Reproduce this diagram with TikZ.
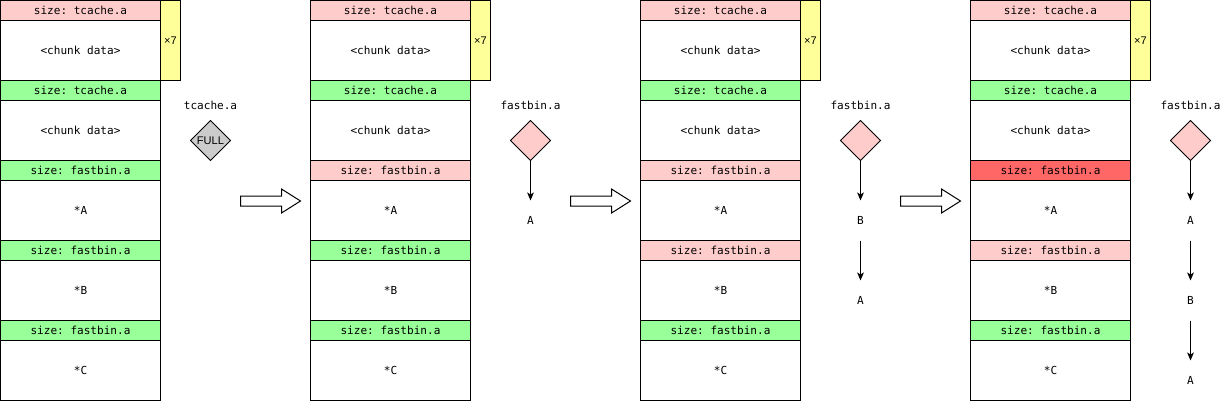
\documentclass[tikz,border=0pt]{standalone}
\usepackage{fontspec}
\setmonofont{DejaVu Sans Mono}
\setsansfont{Liberation Sans}
\usetikzlibrary{shapes.geometric,arrows.meta}
\definecolor{pinkc}{HTML}{FFCCCC}
\definecolor{greenc}{HTML}{99FF99}
\definecolor{yellowc}{HTML}{FFFF99}
\definecolor{redc}{HTML}{FF6666}
\definecolor{grayc}{HTML}{CCCCCC}
\begin{document}
\begin{tikzpicture}[x=0.75pt,y=-0.75pt,
  every node/.style={inner sep=0pt, outer sep=0pt},
  mono/.style={font=\ttfamily\fontsize{8.3}{10}\selectfont},
  hdr/.style={mono, draw, line width=0.75pt, minimum width=120pt, minimum height=15pt},
  dat/.style={mono, draw, line width=0.75pt, fill=white, minimum width=120pt, minimum height=45pt},
  cnt/.style={draw, line width=0.75pt, fill=yellowc, minimum width=15pt, minimum height=60pt, font=\sffamily\fontsize{8.3}{10}\selectfont},
  bin/.style={diamond, draw, line width=0.75pt, fill=pinkc, minimum width=30pt, minimum height=30pt},
  lbl/.style={mono, minimum height=30pt},
  binlbl/.style={mono},
  link/.style={line width=0.75pt, -{Stealth[length=6pt,width=5pt,inset=1.5pt]}},
  blk/.style={draw, line width=0.75pt, fill=white}
]
\useasboundingbox (-0.5,-0.5) rectangle (1230.5,400.5);
\foreach \c/\x/\ca/\cb in {1/0/greenc/greenc, 2/310/pinkc/greenc, 3/640/pinkc/pinkc, 4/970/redc/pinkc} {
  \node[hdr, fill=pinkc] (h\c-1) at (\x+80,10) {size: tcache.a};
  \node[dat] (d\c-1) at (\x+80,50) {<chunk data>};
  \node[hdr, fill=greenc] (h\c-2) at (\x+80,90) {size: tcache.a};
  \node[dat] (d\c-2) at (\x+80,130) {<chunk data>};
  \node[hdr, fill=\ca] (h\c-3) at (\x+80,170) {size: fastbin.a};
  \node[dat] (d\c-3) at (\x+80,210) {*A};
  \node[hdr, fill=\cb] (h\c-4) at (\x+80,250) {size: fastbin.a};
  \node[dat] (d\c-4) at (\x+80,290) {*B};
  \node[hdr, fill=greenc] (h\c-5) at (\x+80,330) {size: fastbin.a};
  \node[dat] (d\c-5) at (\x+80,370) {*C};
  \node[cnt] (k\c) at (\x+170,40) {×7};
}
% stage 1: tcache full
\node[binlbl] (t1) at (210,105) {tcache.a};
\node[diamond, draw, line width=0.75pt, fill=grayc, minimum width=30pt, minimum height=30pt, font=\sffamily\fontsize{8.3}{10}\selectfont] (f1) at (210,140) {FULL};
% stage 2
\node[binlbl] (t2) at (530,105) {fastbin.a};
\node[bin] (f2) at (530,140) {};
\node[lbl] (a2) at (530,220) {A};
\draw[link] (f2.south) -- (a2.north);
% stage 3
\node[binlbl] (t3) at (860,105) {fastbin.a};
\node[bin] (f3) at (860,140) {};
\node[lbl] (b3) at (860,220) {B};
\node[lbl] (a3) at (860,300) {A};
\draw[link] (f3.south) -- (b3.north);
\draw[link] (b3.south) -- (a3.north);
% stage 4
\node[binlbl] (t4) at (1190,105) {fastbin.a};
\node[bin] (f4) at (1190,140) {};
\node[lbl] (a4) at (1190,220) {A};
\node[lbl] (b4) at (1190,300) {B};
\node[lbl] (c4) at (1190,380) {A};
\draw[link] (f4.south) -- (a4.north);
\draw[link] (a4.south) -- (b4.north);
\draw[link] (b4.south) -- (c4.north);
% block arrows between stages
\foreach \s in {240,570,900} {
  \draw[blk] (\s,195.5) -- (\s+41,195.5) -- (\s+41,188.5) -- (\s+60,200.5) -- (\s+41,212.5) -- (\s+41,205.5) -- (\s,205.5) -- cycle;
}
\end{tikzpicture}
\end{document}
